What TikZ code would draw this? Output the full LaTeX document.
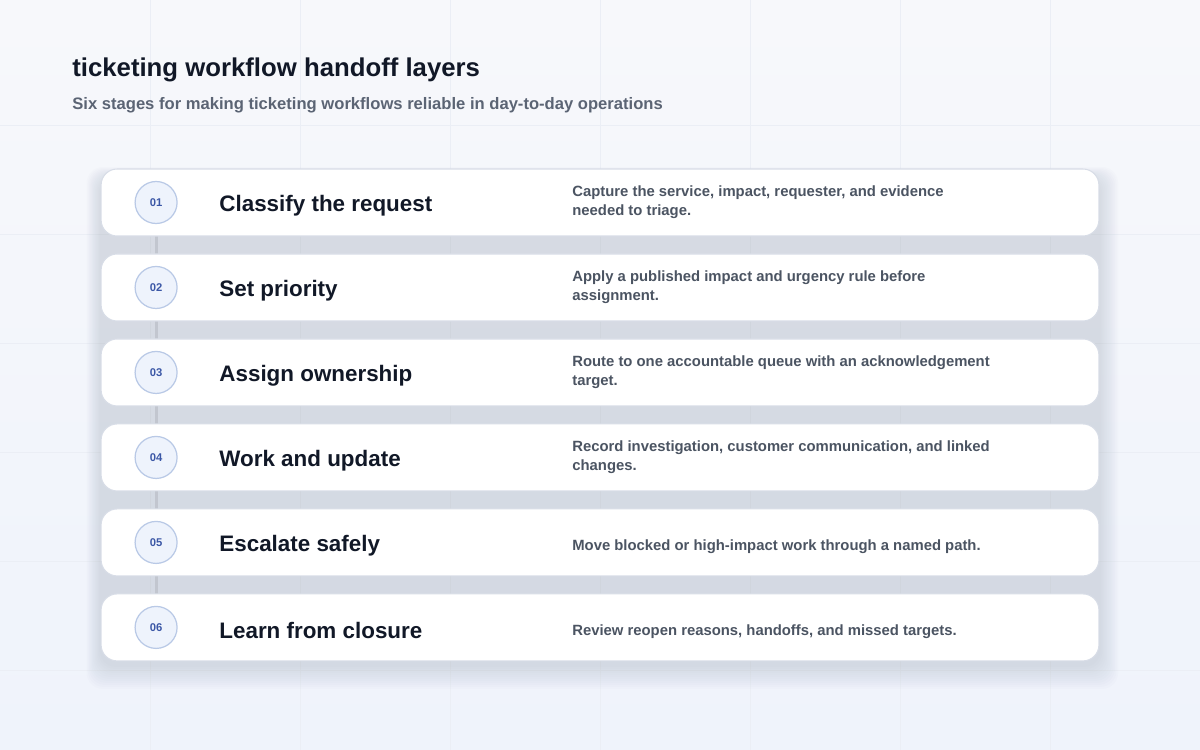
\documentclass[tikz,border=0pt]{standalone}
\usepackage{fontspec}
\setmainfont{Liberation Sans}
\usepackage{xcolor}
\definecolor{pagetop}{HTML}{F7F8FB}
\definecolor{pagebottom}{HTML}{EFF3FB}
\definecolor{gridtone}{HTML}{EBEEF5}
\definecolor{shadowtone}{HTML}{7C86A0}
\definecolor{cardline}{HTML}{D8DDE7}
\definecolor{inkdark}{HTML}{111827}
\definecolor{subgray}{HTML}{5B6474}
\definecolor{inkgray}{HTML}{4B5462}
\definecolor{badgefill}{HTML}{EEF3FC}
\definecolor{badgeline}{HTML}{B9C9E6}
\definecolor{badgetext}{HTML}{3B57A6}
\definecolor{linkgray}{HTML}{C2C6CF}
\usetikzlibrary{positioning}
\usetikzlibrary{backgrounds}
\tikzset{node distance=0.36cm, % gap between two stage cards
  every node/.style={align=left, inner sep=0pt},
  stage/.style={ % one white card per stage
    draw=cardline, line width=0.6pt, fill=white,
    rounded corners=0.32cm, outer sep=0pt,
    minimum width=19.96cm, minimum height=1.34cm},
  badge/.style={ % the numbered circle
    circle, draw=badgeline, fill=badgefill, line width=0.7pt,
    minimum size=0.84cm, text=badgetext,
    font=\fontsize{6.4}{7}\selectfont\bfseries},
  stagetitle/.style={anchor=west, yshift=-0.06cm, text=inkdark,
    font=\fontsize{12.75}{15}\selectfont\bfseries},
  stagenote/.style={anchor=west, yshift=0cm, text=inkgray,
    font=\fontsize{8.45}{10.8}\selectfont\bfseries},
  oneline/.style={yshift=-0.08cm}, % single line notes sit a little lower
  link/.style={draw=linkgray, line width=1.7pt},
  gridline/.style={draw=gridtone, line width=0.4pt}}

\begin{document}
\begin{tikzpicture}[x=0.02cm, y=-0.02cm]
  \useasboundingbox (0,0) rectangle (1200,750);

  % heading
  \node [anchor=base west, text=inkdark,
    font=\fontsize{14.65}{17}\selectfont\bfseries] (title) at (72,77)
    {ticketing workflow handoff layers};
  \node [anchor=base west, text=subgray,
    font=\fontsize{9.45}{11}\selectfont\bfseries] (subtitle) at (72,110)
    {Six stages for making ticketing workflows reliable in day-to-day operations};

  % the six cards
  \node [stage] (c1) at (600,202.5) {};
  \node [stage, below=of c1] (c2) {};
  \node [stage, below=of c2] (c3) {};
  \node [stage, below=of c3] (c4) {};
  \node [stage, below=of c4] (c5) {};
  \node [stage, below=of c5] (c6) {};

  % numbers
  \node [badge] (b1) at ([xshift=1.1cm]c1.west) {01};
  \node [badge] (b2) at ([xshift=1.1cm]c2.west) {02};
  \node [badge] (b3) at ([xshift=1.1cm]c3.west) {03};
  \node [badge] (b4) at ([xshift=1.1cm]c4.west) {04};
  \node [badge] (b5) at ([xshift=1.1cm]c5.west) {05};
  \node [badge] (b6) at ([xshift=1.1cm]c6.west) {06};

  % stage names
  \node [stagetitle] (t1) at ([xshift=2.36cm]c1.west) {Classify the request};
  \node [stagetitle] (t2) at ([xshift=2.36cm]c2.west) {Set priority};
  \node [stagetitle] (t3) at ([xshift=2.36cm]c3.west) {Assign ownership};
  \node [stagetitle] (t4) at ([xshift=2.36cm]c4.west) {Work and update};
  \node [stagetitle] (t5) at ([xshift=2.36cm]c5.west) {Escalate safely};
  \node [stagetitle] (t6) at ([xshift=2.36cm]c6.west) {Learn from closure};

  % what each stage does
  \node [stagenote] (n1) at ([xshift=9.42cm]c1.west)
    {Capture the service, impact, requester, and evidence\\needed to triage.};
  \node [stagenote] (n2) at ([xshift=9.42cm]c2.west)
    {Apply a published impact and urgency rule before\\assignment.};
  \node [stagenote] (n3) at ([xshift=9.42cm]c3.west)
    {Route to one accountable queue with an acknowledgement\\target.};
  \node [stagenote] (n4) at ([xshift=9.42cm]c4.west)
    {Record investigation, customer communication, and linked\\changes.};
  \node [stagenote, oneline] (n5) at ([xshift=9.42cm]c5.west)
    {Move blocked or high-impact work through a named path.};
  \node [stagenote, oneline] (n6) at ([xshift=9.42cm]c6.west)
    {Review reopen reasons, handoffs, and missed targets.};

  \begin{scope}[on background layer]
    % page, faint grid
    \shade [top color=pagetop, bottom color=pagebottom] (0,0) rectangle (1200,750);
    \foreach \gx in {150,300,...,1050}
      \draw [gridline] (\gx,0) -- (\gx,750);
    \foreach \gy in {125,234,343,452,561,670}
      \draw [gridline] (0,\gy) -- (1200,\gy);

    % soft shadow under the stack
    \foreach \r in {1,...,12}
      \fill [shadowtone, opacity=0.018, rounded corners=0.32cm]
        ([shift={(-1.2*\r,10-\r)}]c1.north west) rectangle
        ([shift={(1.6*\r,4+2*\r)}]c6.south east);

    % rail between the numbers
    \draw [link] (b1) -- (b2);
    \draw [link] (b2) -- (b3);
    \draw [link] (b3) -- (b4);
    \draw [link] (b4) -- (b5);
    \draw [link] (b5) -- (b6);
  \end{scope}
\end{tikzpicture}
\end{document}
